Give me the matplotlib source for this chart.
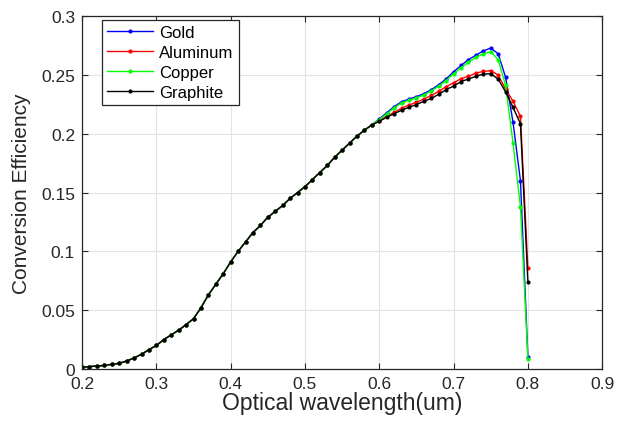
import numpy as np
import matplotlib.pyplot as plt

plt.rcParams['font.family'] = ['Liberation Sans', 'DejaVu Sans']

# wavelength grid (um), 0.2 .. 0.8 in 0.01 steps
wl = np.round(np.arange(0.20, 0.8001, 0.01), 2)

# common part of the curve, 0.20 .. 0.59 (all materials coincide here)
common = [0.0015, 0.002, 0.0026, 0.003, 0.004, 0.0048, 0.0068, 0.0094, 0.0125, 0.0164,
          0.020, 0.025, 0.029, 0.033, 0.0377, 0.0428, 0.052, 0.063, 0.072, 0.081,
          0.091, 0.100, 0.108, 0.116, 0.122, 0.129, 0.134, 0.139, 0.145, 0.150,
          0.155, 0.161, 0.167, 0.173, 0.180, 0.186, 0.192, 0.198, 0.203, 0.2075]

# 0.60 .. 0.80
gold_tail = [0.2125, 0.2178, 0.223, 0.2272, 0.2295, 0.2315, 0.234, 0.2374, 0.2417, 0.2465,
             0.2527, 0.258, 0.263, 0.2667, 0.2704, 0.2728, 0.268, 0.248, 0.2097, 0.160, 0.0102]
aluminum_tail = [0.211, 0.2148, 0.2182, 0.2216, 0.2244, 0.2267, 0.2295, 0.2325, 0.236, 0.240,
                 0.2433, 0.2468, 0.2488, 0.2515, 0.253, 0.2536, 0.2499, 0.238, 0.2275, 0.2148, 0.0856]
copper_tail = [0.212, 0.2168, 0.222, 0.2262, 0.2285, 0.2305, 0.233, 0.2364, 0.2405, 0.2452,
               0.251, 0.256, 0.2607, 0.265, 0.2678, 0.2697, 0.263, 0.241, 0.192, 0.138, 0.0088]
graphite_tail = [0.2105, 0.214, 0.217, 0.220, 0.2225, 0.2248, 0.2275, 0.230, 0.2335, 0.2375,
                 0.2405, 0.2443, 0.2465, 0.2488, 0.2507, 0.251, 0.2465, 0.2355, 0.2224, 0.2085, 0.0742]

gold = common + gold_tail
aluminum = common + aluminum_tail
copper = common + copper_tail
graphite = common + graphite_tail

fig = plt.figure(figsize=(6.17, 4.27), dpi=100)
ax = fig.add_axes([0.133, 0.1335, 0.843, 0.8265])

ax.plot(wl, gold, color=(0, 0, 1), marker='.', markersize=4, linewidth=1, label='Gold')
ax.plot(wl, aluminum, color=(1, 0, 0), marker='.', markersize=4, linewidth=1, label='Aluminum')
ax.plot(wl, copper, color=(0, 1, 0), marker='.', markersize=4, linewidth=1, label='Copper')
ax.plot(wl, graphite, color='k', marker='.', markersize=4, linewidth=1, label='Graphite')

ax.set_xlim(0.2, 0.9)
ax.set_ylim(0, 0.3)
ax.set_xticks(np.arange(0.2, 0.91, 0.1))
ax.set_xticklabels(['0.2', '0.3', '0.4', '0.5', '0.6', '0.7', '0.8', '0.9'])
ax.set_yticks([0, 0.05, 0.1, 0.15, 0.2, 0.25, 0.3])
ax.set_yticklabels(['0', '0.05', '0.1', '0.15', '0.2', '0.25', '0.3'])
ax.tick_params(direction='in', top=True, right=True, labelsize=12.5, length=4,
               width=0.8, colors='#262626')
ax.tick_params(axis='y', pad=5)
ax.tick_params(axis='x', pad=5)
ax.grid(True, color='#e3e3e3', linewidth=0.8)
ax.set_axisbelow(True)
for s in ax.spines.values():
    s.set_linewidth(0.9)
    s.set_color('#262626')

ax.set_xlabel('Optical wavelength(um)', fontsize=16.5, color='#262626', labelpad=0)
ax.set_ylabel('Conversion Efficiency', fontsize=15, color='#262626', labelpad=7)

leg = ax.legend(loc='upper left', bbox_to_anchor=(0.038, 0.99), fontsize=12,
                fancybox=False, edgecolor='#262626', framealpha=1,
                handlelength=2.75, handletextpad=0.4, borderpad=0.3,
                labelspacing=0.3, borderaxespad=0)
leg.get_frame().set_linewidth(0.9)

fig.savefig('out.png', dpi=100)
